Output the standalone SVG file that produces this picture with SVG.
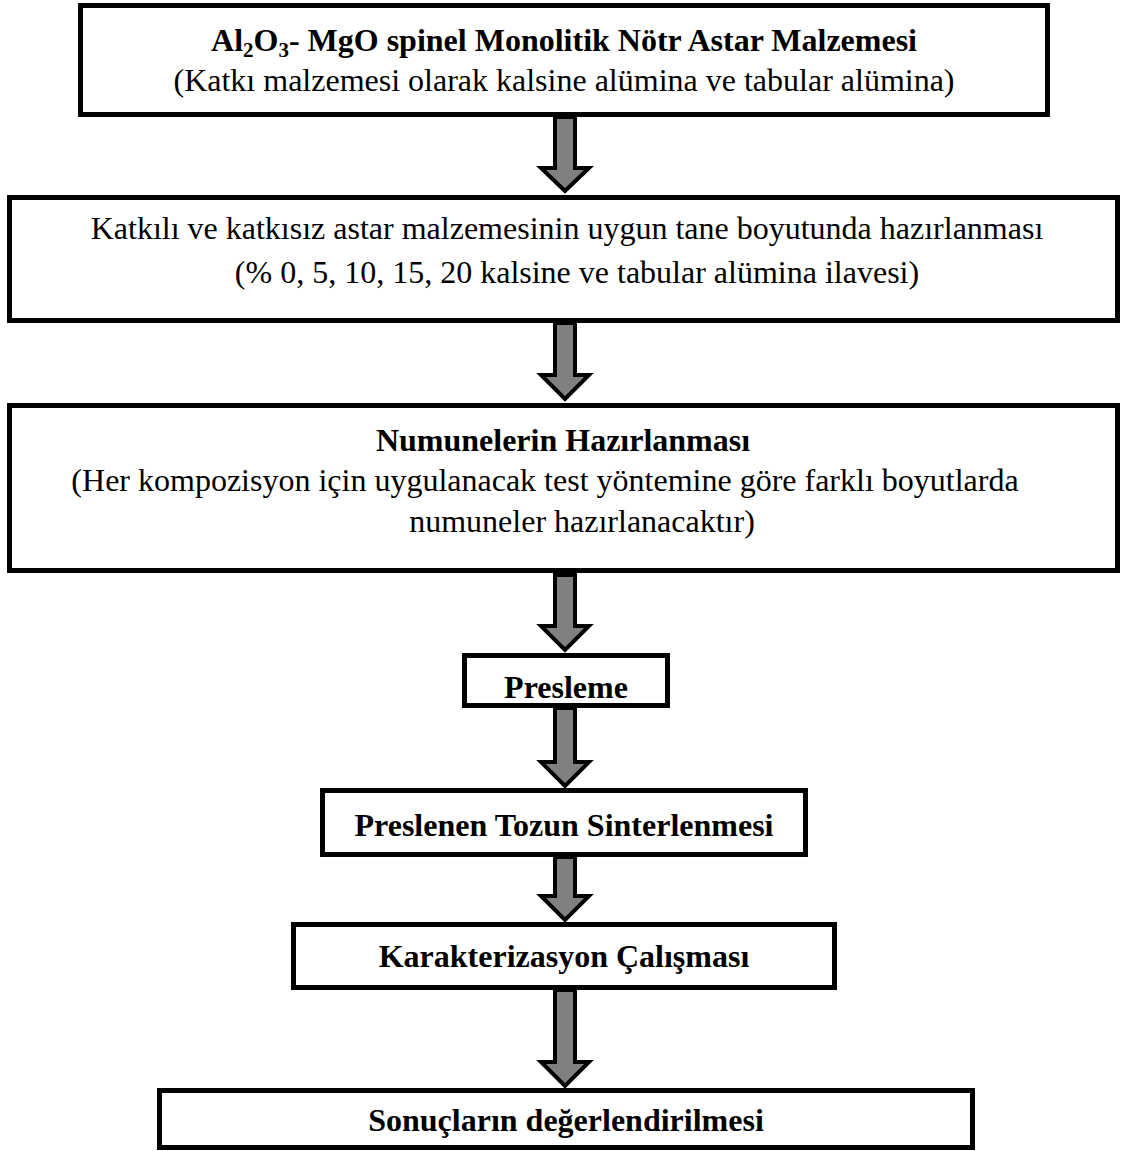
<svg xmlns="http://www.w3.org/2000/svg" width="1124" height="1151" viewBox="0 0 1124 1151">
<style>
.box{fill:#fff;stroke:#000;stroke-width:5}
.arr{fill:#808080;stroke:#000;stroke-width:4;stroke-linejoin:miter}
text{font-family:"Liberation Serif","Times New Roman",serif;font-size:32px;fill:#000;text-anchor:middle}
.b{font-weight:bold}
</style>
<rect width="1124" height="1151" fill="#fff"/>
<g id="connectors">
<polygon class="arr" points="555,117 575,117 575,168 589,168 565,191 541,168 555,168"/>
<polygon class="arr" points="555,323 575,323 575,375 589,375 565,399 541,375 555,375"/>
<polygon class="arr" points="555,575 575,575 575,626 589,626 565,650 541,626 555,626"/>
<polygon class="arr" points="555,708 575,708 575,762 589,762 565,786 541,762 555,762"/>
<polygon class="arr" points="555,857 575,857 575,896 589,896 565,920 541,896 555,896"/>
<polygon class="arr" points="555,990 575,990 575,1062 589,1062 565,1086 541,1062 555,1062"/>
</g>
<g id="node1">
<rect class="box" x="80.5" y="5.5" width="967" height="109"/>
<text class="b" x="564" y="51">Al<tspan font-size="21" dy="6">2</tspan><tspan dy="-6">O</tspan><tspan font-size="21" dy="6">3</tspan><tspan dy="-6">- MgO spinel Monolitik Nötr Astar Malzemesi</tspan></text>
<text x="564" y="91">(Katkı malzemesi olarak kalsine alümina ve tabular alümina)</text>
</g>
<g id="node2">
<rect class="box" x="9.5" y="197.5" width="1108" height="123"/>
<text x="567" y="239">Katkılı ve katkısız astar malzemesinin uygun tane boyutunda hazırlanması</text>
<text x="577" y="283">(% 0, 5, 10, 15, 20 kalsine ve tabular alümina ilavesi)</text>
</g>
<g id="node3">
<rect class="box" x="9.5" y="405.5" width="1108" height="165"/>
<text class="b" x="563" y="451">Numunelerin Hazırlanması</text>
<text x="545" y="491">(Her kompozisyon için uygulanacak test yöntemine göre farklı boyutlarda</text>
<text x="582" y="532">numuneler hazırlanacaktır)</text>
</g>
<g id="node4">
<rect class="box" x="464.5" y="655.5" width="203" height="50"/>
<text class="b" x="566" y="698">Presleme</text>
</g>
<g id="node5">
<rect class="box" x="322.5" y="790.5" width="483" height="64"/>
<text class="b" x="564" y="836">Preslenen Tozun Sinterlenmesi</text>
</g>
<g id="node6">
<rect class="box" x="293.5" y="924.5" width="541" height="63"/>
<text class="b" x="564" y="967">Karakterizasyon Çalışması</text>
</g>
<g id="node7">
<rect class="box" x="159.5" y="1090.5" width="813" height="57"/>
<text class="b" x="566" y="1131">Sonuçların değerlendirilmesi</text>
</g>
</svg>
